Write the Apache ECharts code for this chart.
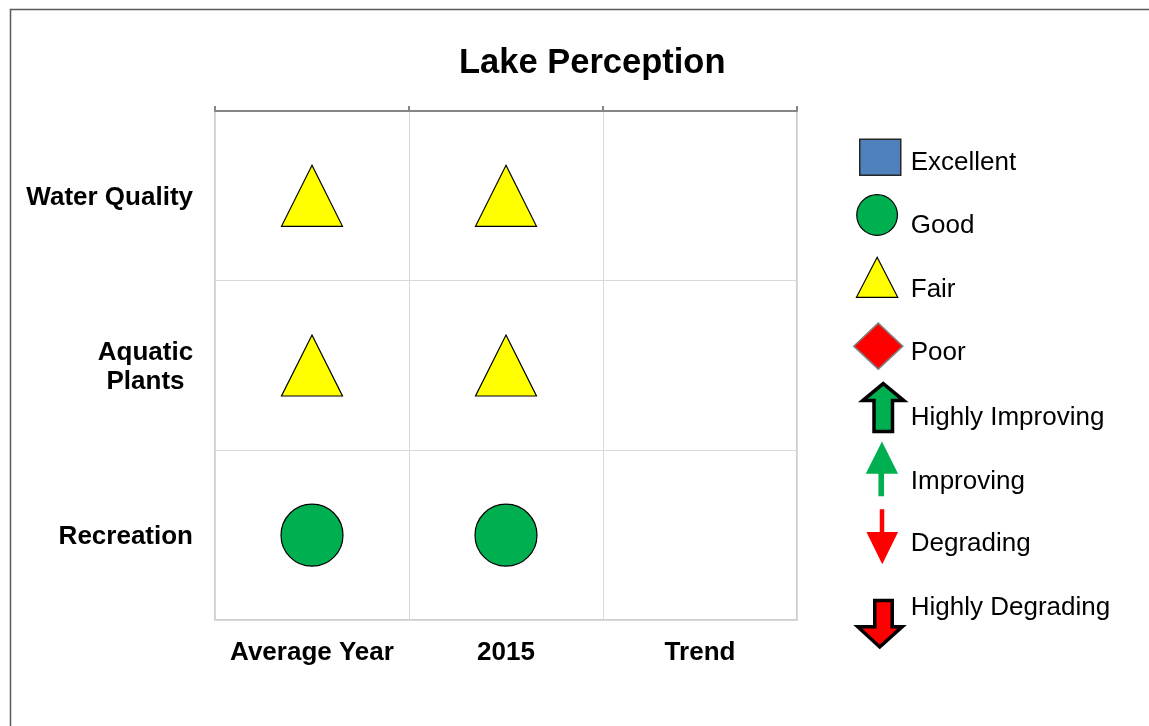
<!DOCTYPE html>
<html>
<head>
<meta charset="utf-8">
<title>Lake Perception</title>
<script src="https://cdn.jsdelivr.net/npm/echarts@6/dist/echarts.min.js"></script>
<style>
  html, body { margin: 0; padding: 0; background: #fff; }
  #chart { width: 1149px; height: 726px; }
</style>
</head>
<body>
<div id="chart"></div>
<script>
// 列 / 行
const columns = ["Average Year", "2015", "Trend"];
const areas = ["Water Quality", "Aquatic\nPlants", "Recreation"];

// 每列的评级（按 areas 顺序）
const averageYear = ["Fair", "Fair", "Good"];
const year2015 = ["Fair", "Fair", "Good"];
const trend = [null, null, null];

// 图例顺序
const ratings = ["Excellent", "Good", "Fair", "Poor", "Highly Improving", "Improving", "Degrading", "Highly Degrading"];

const FONT = '"Liberation Sans", Arial, sans-serif';
// legend icon box is 55 x 90, centre line y = 45
const BOX = "M0 0 M55 90 ";

const markStyles = {
  "Excellent": { symbol: "rect", size: [61, 52], color: "#4F81BD", border: "#262626", bw: 1.5,
    icon: "M9 21.5 L50 21.5 L50 57.5 L9 57.5 Z" },
  "Good": { symbol: "circle", size: 62, color: "#00B050", border: "#000", bw: 1.2,
    icon: "M6 33.8 A20.3 20.3 0 1 1 46.7 33.8 A20.3 20.3 0 1 1 6 33.8 Z" },
  "Fair": { symbol: "triangle", size: 61, color: "#FFFF00", border: "#000", bw: 1.2,
    icon: "M26.4 12.7 L47 52.7 L5.7 52.7 Z" },
  "Poor": { symbol: "diamond", size: 62, color: "#FF0000", border: "#7f7f7f", bw: 1.5,
    icon: "M27.5 15 L52 38 L27.5 61 L3 38 Z" },
  "Highly Improving": { symbol: "arrow", size: 50, color: "#00B050", border: "#000", bw: 3.5,
    icon: "M32.5 10.8 L53 27.8 L41.75 27.8 L41.75 58.8 L23.25 58.8 L23.25 27.8 L12 27.8 Z" },
  "Improving": { symbol: "arrow", size: 50, color: "#00B050", border: "#000", bw: 0,
    icon: "M31.2 4.8 L47.3 37.1 L33.3 37.1 L33.3 59.5 L27.7 59.5 L27.7 37.1 L15 37.1 Z" },
  "Degrading": { symbol: "arrow", size: 50, color: "#FF0000", border: "#000", bw: 0,
    icon: "M29 10.5 L33.5 10.5 L33.5 33.2 L47.3 33.2 L31.5 65.5 L15.7 33.2 L29 33.2 Z" },
  "Highly Degrading": { symbol: "arrow", size: 50, color: "#FF0000", border: "#000", bw: 3.5,
    icon: "M24 37.7 L41.5 37.7 L41.5 63.9 L51.5 63.9 L29 84.2 L7 63.9 L24 63.9 Z" }
};

const columnValues = [averageYear, year2015, trend];

// 每个评级一个 scatter 系列，点位 = [列序号, 行序号]
const series = ratings.map((r) => {
  const points = [];
  columnValues.forEach((col, ci) => {
    col.forEach((v, ai) => {
      if (v === r) points.push([ci, ai]);
    });
  });
  const s = markStyles[r];
  return {
    name: r,
    type: "scatter",
    xAxisIndex: 1,
    yAxisIndex: 0,
    symbol: s.symbol === "arrow" ? "path://" + s.icon : s.symbol,
    symbolSize: s.size,
    itemStyle: { color: s.color, borderColor: s.border, borderWidth: s.bw, opacity: 1 },
    emphasis: { disabled: true },
    data: points
  };
});

const chart = echarts.init(document.getElementById("chart"));
chart.setOption({
  animation: false,
  backgroundColor: "#fff",
  title: {
    text: "Lake Perception",
    left: 459,
    top: 46,
    padding: 0,
    textStyle: { fontSize: 34.5, fontWeight: "bold", color: "#000", fontFamily: FONT }
  },
  graphic: [
    {
      type: "rect",
      shape: { x: 10.5, y: 9.5, width: 1300, height: 1000 },
      style: { fill: "none", stroke: "#595959", lineWidth: 1.5 },
      silent: true
    }
  ],
  legend: {
    orient: "vertical",
    left: 849,
    top: 117,
    padding: 0,
    itemWidth: 55,
    itemHeight: 90,
    itemGap: -27.84,
    selectedMode: false,
    textStyle: { fontSize: 26, color: "#000", fontFamily: FONT },
    data: ratings.map((r) => ({
      name: r,
      icon: "path://" + BOX + markStyles[r].icon,
      itemStyle: {
        color: markStyles[r].color,
        borderColor: markStyles[r].border,
        borderWidth: markStyles[r].bw
      }
    }))
  },
  grid: {
    left: 215,
    right: 352,
    top: 111,
    bottom: 106,
    show: true,
    borderColor: "#bfbfbf",
    borderWidth: 1.5,
    outerBoundsMode: "none"
  },
  xAxis: [
    {
      type: "category",
      data: columns,
      position: "top",
      axisLine: { lineStyle: { color: "#868686", width: 2 } },
      axisTick: { show: true, length: 5, lineStyle: { color: "#868686", width: 2 } },
      axisLabel: { show: false },
      splitLine: { show: true, lineStyle: { color: "#d9d9d9", width: 1 } }
    },
    {
      type: "category",
      data: columns,
      position: "bottom",
      axisLine: { show: false },
      axisTick: { show: false },
      axisLabel: { interval: 0, margin: 20, fontSize: 26, fontWeight: "bold", color: "#000", fontFamily: FONT },
      splitLine: { show: false }
    }
  ],
  yAxis: {
    type: "category",
    data: areas,
    inverse: true,
    axisLine: { show: false },
    axisTick: { show: false },
    axisLabel: {
      interval: 0,
      margin: 22,
      fontSize: 26,
      fontWeight: "bold",
      color: "#000",
      fontFamily: FONT,
      lineHeight: 29,
      padding: [3, 0, 0, 0],
      formatter: (v) => (v.indexOf("\n") < 0 ? v : v.split("\n").map((s) => "{c|" + s + "}").join("\n")),
      rich: {
        c: { width: 95, align: "center", fontSize: 26, fontWeight: "bold", color: "#000", fontFamily: FONT, lineHeight: 29 }
      }
    },
    splitLine: { show: true, lineStyle: { color: "#d9d9d9", width: 1 } }
  },
  series: series
});
</script>
</body>
</html>
